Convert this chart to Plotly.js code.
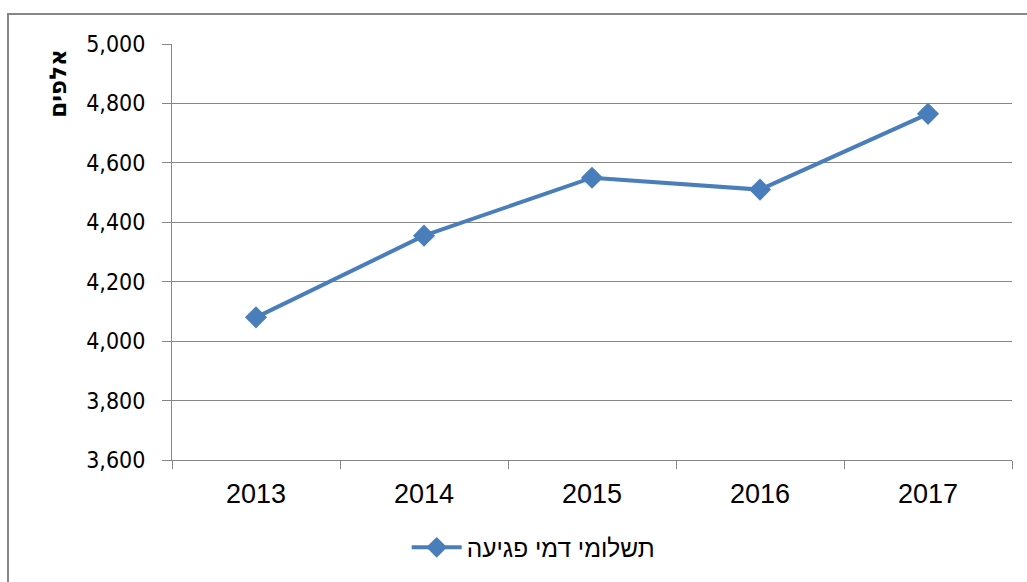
<!DOCTYPE html>
<html>
<head>
<meta charset="utf-8">
<script src="https://cdn.plot.ly/plotly-3.0.1.min.js"></script>
<style>
html,body{margin:0;padding:0;background:#fff;}
#wrap{position:relative;width:1027px;height:582px;overflow:hidden;}
#frame{position:absolute;left:7px;top:13px;width:1200px;height:800px;border:2px solid #868686;pointer-events:none;}
#chart{position:absolute;left:0;top:0;width:1027px;height:582px;}
</style>
</head>
<body>
<div id="wrap">
<div id="chart"></div>
<div id="frame"></div>
</div>
<script>
var years = ['2013', '2014', '2015', '2016', '2017'];
var payments = [4080, 4355, 4550, 4510, 4765];
var seriesName = 'תשלומי דמי פגיעה';
var yTitle = 'אלפים';
var yTicks = [3600, 3800, 4000, 4200, 4400, 4600, 4800, 5000];

var trace = {
  x: years,
  y: payments,
  type: 'scatter',
  mode: 'lines+markers',
  name: seriesName,
  line: {color: '#4A7EBB', width: 4},
  marker: {symbol: 'diamond', size: 17, color: '#4A7EBB'}
};

var layout = {
  width: 1027,
  height: 582,
  margin: {l: 172, r: 15, t: 44, b: 119},
  paper_bgcolor: 'rgba(0,0,0,0)',
  plot_bgcolor: '#fff',
  showlegend: true,
  xaxis: {
    type: 'category',
    range: [-0.5, 4.5],
    tickson: 'boundaries',
    ticks: 'outside',
    ticklen: 8,
    tickcolor: '#868686',
    showgrid: false,
    showline: true,
    linecolor: '#868686',
    linewidth: 1,
    ticklabelstandoff: 10,
    tickfont: {family: 'Liberation Sans, Arial, sans-serif', size: 27, color: '#000'}
  },
  yaxis: {
    range: [3600, 5000],
    tickvals: yTicks,
    tickformat: ',d',
    ticks: 'outside',
    ticklen: 9,
    tickcolor: '#868686',
    showgrid: true,
    gridcolor: '#868686',
    gridwidth: 1,
    showline: true,
    linecolor: '#868686',
    linewidth: 1,
    zeroline: false,
    ticklabelstandoff: 12,
    tickfont: {family: 'DejaVu Sans Condensed, Noto Sans, sans-serif', size: 23, color: '#000'}
  },
  legend: {
    orientation: 'h',
    x: 0.43,
    xanchor: 'center',
    y: -0.21,
    yanchor: 'middle',
    font: {family: 'Liberation Sans, Arial, sans-serif', size: 24.5, color: '#000'},
    itemwidth: 50
  },
  annotations: [{
    text: '<b>' + yTitle + '</b>',
    xref: 'paper', yref: 'paper',
    x: (58 - 172) / 840, y: (463 - 84) / 419,
    xanchor: 'center', yanchor: 'middle',
    textangle: -90,
    showarrow: false,
    font: {family: 'DejaVu Sans, Liberation Sans, sans-serif', size: 23, color: '#000'}
  }]
};

Plotly.newPlot('chart', [trace], layout, {displayModeBar: false, staticPlot: true});
</script>
</body>
</html>
